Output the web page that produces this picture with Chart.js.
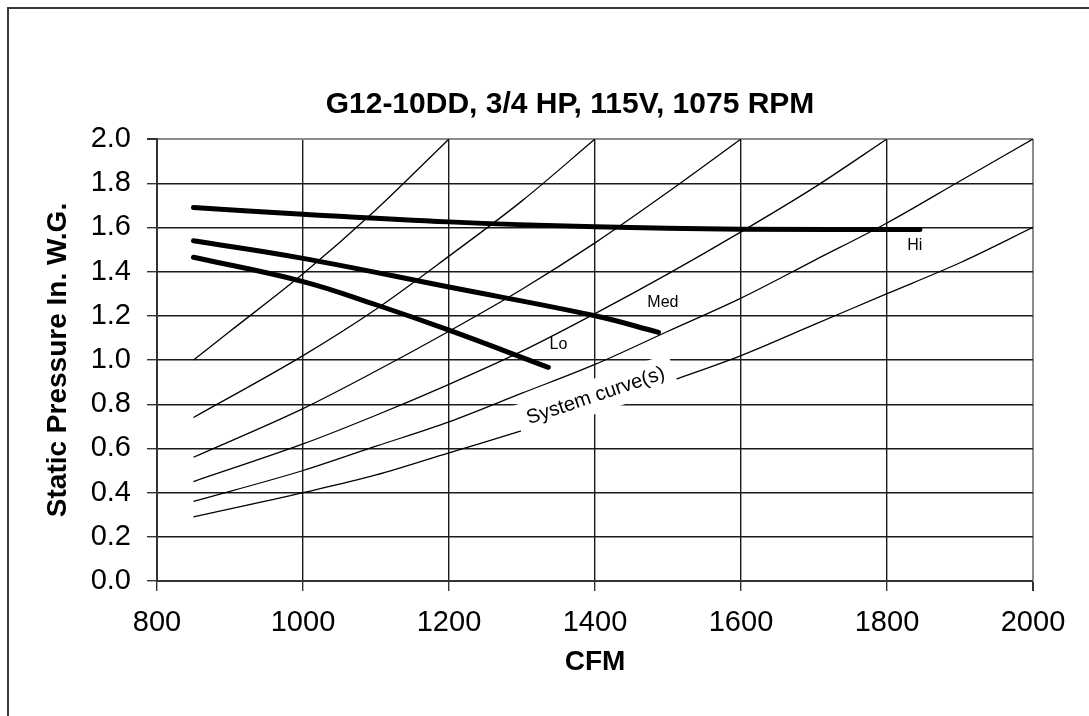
<!DOCTYPE html>
<html>
<head>
<meta charset="utf-8">
<title>G12-10DD fan curve</title>
<script src="https://cdn.jsdelivr.net/npm/chart.js@4.4.0/dist/chart.umd.min.js"></script>
<style>
  html, body { margin: 0; padding: 0; background: #fff; }
  #wrap { position: relative; width: 1089px; height: 716px; overflow: hidden; }
  #frame { position: absolute; left: 7px; top: 7px; right: -10px; bottom: -10px;
           border-left: 2px solid #3a3a3a; border-top: 2px solid #3a3a3a; }
  #chart { position: absolute; left: 0; top: 0; }
</style>
</head>
<body>
<div id="wrap">
  <div id="frame"></div>
  <canvas id="chart" width="1089" height="716"></canvas>
</div>
<script>
// fan performance, CFM vs static pressure (in. w.g.)
var hiCfm  = [850, 1000, 1200, 1400, 1600, 1845];
var hiSp   = [1.69, 1.66, 1.625, 1.603, 1.592, 1.59];
var medCfm = [850, 1000, 1200, 1400, 1487];
var medSp  = [1.54, 1.46, 1.33, 1.20, 1.125];
var loCfm  = [850, 1000, 1100, 1200, 1336];
var loSp   = [1.465, 1.355, 1.25, 1.135, 0.967];

// system curves
var sys1Cfm = [850, 900, 1000, 1100, 1200];
var sys1Sp  = [1.00, 1.13, 1.39, 1.68, 2.00];
var sys2Cfm = [850, 1000, 1100, 1200, 1300, 1400];
var sys2Sp  = [0.74, 1.02, 1.23, 1.47, 1.72, 2.00];
var sys3Cfm = [850, 1000, 1100, 1200, 1300, 1400, 1500, 1600];
var sys3Sp  = [0.56, 0.78, 0.95, 1.13, 1.32, 1.53, 1.76, 2.00];
var sys4Cfm = [850, 1000, 1100, 1200, 1300, 1400, 1500, 1600, 1700, 1800];
var sys4Sp  = [0.45, 0.62, 0.75, 0.89, 1.04, 1.21, 1.39, 1.58, 1.78, 2.00];
var sys5Cfm = [850, 1000, 1100, 1200, 1300, 1400, 1500, 1600, 1700, 1800, 1900, 2000];
var sys5Sp  = [0.36, 0.50, 0.61, 0.72, 0.85, 0.98, 1.13, 1.28, 1.45, 1.62, 1.81, 2.00];
var sys6Cfm = [850, 1000, 1100, 1200, 1300, 1400, 1500, 1600, 1700, 1800, 1900, 2000];
var sys6Sp  = [0.29, 0.40, 0.48, 0.58, 0.68, 0.78, 0.90, 1.02, 1.16, 1.30, 1.44, 1.60];

var speedNames = ['Hi', 'Med', 'Lo'];

var FONT = '"Liberation Sans", Arial, Helvetica, sans-serif';

function pts(xs, ys) {
  return xs.map(function (x, i) { return { x: x, y: ys[i] }; });
}

function fanLine(xs, ys) {
  return {
    data: pts(xs, ys),
    borderColor: '#000',
    borderWidth: 5,
    borderCapStyle: 'round',
    borderJoinStyle: 'round',
    tension: 0.4,
    pointRadius: 0
  };
}

function sysLine(xs, ys) {
  return {
    data: pts(xs, ys),
    borderColor: '#000',
    borderWidth: 1.3,
    cubicInterpolationMode: 'monotone',
    pointRadius: 0
  };
}

// text on the curves (speed taps + the system curve note)
var curveLabels = {
  id: 'curveLabels',
  afterDatasetsDraw: function (chart) {
    var ctx = chart.ctx, xs = chart.scales.x, ys = chart.scales.y;
    var spots = [[1838, 1.516], [1493, 1.26], [1350, 1.068]];
    ctx.save();
    ctx.fillStyle = '#000';
    ctx.textAlign = 'center';
    ctx.textBaseline = 'middle';
    ctx.font = '16px ' + FONT;
    speedNames.forEach(function (name, i) {
      ctx.fillText(name, xs.getPixelForValue(spots[i][0]), ys.getPixelForValue(spots[i][1]));
    });

    ctx.translate(xs.getPixelForValue(1401), ys.getPixelForValue(0.837));
    ctx.rotate(-18.6 * Math.PI / 180);
    ctx.fillStyle = '#fff';
    ctx.fillRect(-82, -17, 164, 34);
    ctx.fillStyle = '#000';
    ctx.font = '20px ' + FONT;
    ctx.fillText('System curve(s)', 0, 0);
    ctx.restore();
  }
};

new Chart(document.getElementById('chart'), {
  type: 'line',
  data: {
    datasets: [
      fanLine(hiCfm, hiSp),
      fanLine(medCfm, medSp),
      fanLine(loCfm, loSp),
      sysLine(sys1Cfm, sys1Sp),
      sysLine(sys2Cfm, sys2Sp),
      sysLine(sys3Cfm, sys3Sp),
      sysLine(sys4Cfm, sys4Sp),
      sysLine(sys5Cfm, sys5Sp),
      sysLine(sys6Cfm, sys6Sp)
    ]
  },
  options: {
    responsive: false,
    animation: false,
    devicePixelRatio: 1,
    layout: { padding: { left: 51, right: 0, top: 0, bottom: 0 } },
    plugins: {
      legend: { display: false },
      tooltip: { enabled: false },
      title: {
        display: true,
        text: 'G12-10DD, 3/4 HP, 115V, 1075 RPM',
        color: '#000',
        font: { family: FONT, size: 30, weight: 'bold' },
        padding: { top: 87, bottom: 16 }
      }
    },
    scales: {
      x: {
        type: 'linear',
        min: 800,
        max: 2000,
        ticks: {
          stepSize: 200,
          color: '#000',
          padding: 15,
          maxRotation: 0,
          font: { family: FONT, size: 29 },
          callback: function (v) { return String(v); }
        },
        grid: {
          color: function (c) { return c.tick && c.tick.value === 2000 ? '#8c8c8c' : '#1a1a1a'; },
          lineWidth: function (c) { return c.tick && c.tick.value === 2000 ? 2 : 1.4; },
          tickLength: 10,
          tickColor: '#333'
        },
        border: { color: '#333', width: 2 },
        title: {
          display: true,
          text: 'CFM',
          color: '#000',
          font: { family: FONT, size: 28, weight: 'bold' },
          padding: { top: 0, bottom: 37 }
        },
        afterFit: function (s) { s.height = 135; s.paddingRight = 56; }
      },
      y: {
        min: 0,
        max: 2,
        ticks: {
          stepSize: 0.2,
          color: '#000',
          padding: 16,
          font: { family: FONT, size: 29 },
          callback: function (v) { return v.toFixed(1); }
        },
        grid: {
          color: function (c) { return c.tick && Math.abs(c.tick.value - 2) < 1e-6 ? '#8c8c8c' : '#1a1a1a'; },
          lineWidth: function (c) { return c.tick && Math.abs(c.tick.value - 2) < 1e-6 ? 2 : 1.4; },
          tickLength: 10,
          tickColor: '#333'
        },
        border: { color: '#333', width: 2 },
        title: {
          display: true,
          text: 'Static Pressure In. W.G.',
          color: '#000',
          font: { family: FONT, size: 28, weight: 'bold' },
          padding: { top: -10, bottom: 0 }
        },
        afterFit: function (s) { s.width = 106; }
      }
    }
  },
  plugins: [curveLabels]
});
</script>
</body>
</html>
